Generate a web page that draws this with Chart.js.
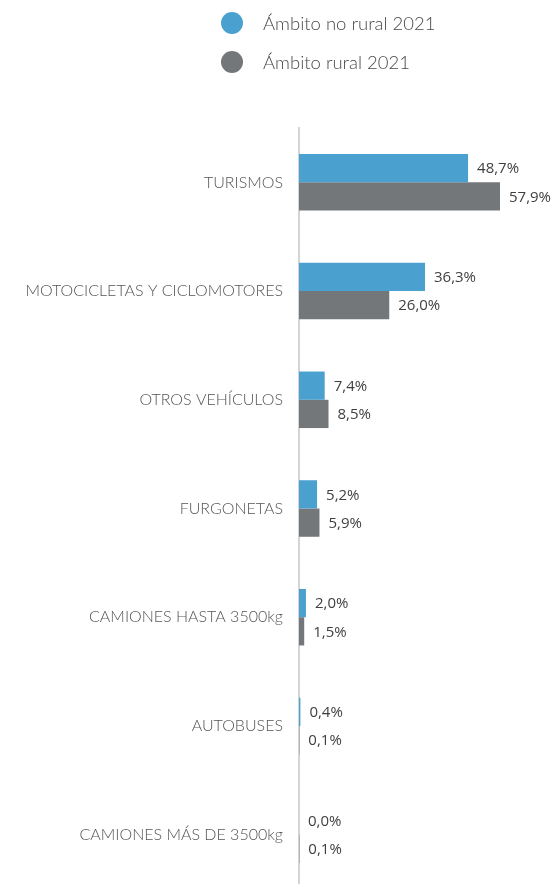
<!DOCTYPE html>
<html lang="es">
<head>
<meta charset="utf-8">
<title>Vehículos por ámbito 2021</title>
<script src="https://cdn.jsdelivr.net/npm/chart.js@4.4.0/dist/chart.umd.min.js"></script>
<style>
  html, body { margin: 0; padding: 0; background: #fff; }
  #wrap { position: relative; width: 554px; height: 884px; overflow: hidden; }
  #grafico { display: block; }
  #leyenda { position: absolute; left: 221px; top: 11px; font-family: 'Lato', sans-serif; font-weight: 300; font-size: 18.5px; color: #4a4a4a; }
  #leyenda .item { display: flex; align-items: center; height: 24px; margin-bottom: 15px; }
  #leyenda .dot { width: 22px; height: 22px; border-radius: 50%; margin-right: 20px; }
</style>
</head>
<body>
<div id="wrap">
  <!-- el lienzo sobresale unos px por abajo: el eje del original sigue bajo el borde -->
  <canvas id="grafico" width="554" height="889"></canvas>
  <div id="leyenda"></div>
</div>
<script>
// Datos (% sobre total)
const categorias = ['TURISMOS', 'MOTOCICLETAS Y CICLOMOTORES', 'OTROS VEHÍCULOS', 'FURGONETAS',
  'CAMIONES HASTA 3500kg', 'AUTOBUSES', 'CAMIONES MÁS DE 3500kg'];
const noRural = [48.7, 36.3, 7.4, 5.2, 2.0, 0.4, 0.0];
const rural = [57.9, 26.0, 8.5, 5.9, 1.5, 0.1, 0.1];
const series = ['Ámbito no rural 2021', 'Ámbito rural 2021'];

const colores = ['#4aa1cf', '#74777a'];

// leyenda en HTML (dos filas, alineada a la izquierda)
const leyenda = document.getElementById('leyenda');
series.forEach((s, i) => {
  const item = document.createElement('div');
  item.className = 'item';
  item.innerHTML = `<span class="dot" style="background:${colores[i]}"></span><span>${s}</span>`;
  leyenda.appendChild(item);
});

// etiquetas de valor al final de cada barra
const etiquetasValor = {
  id: 'etiquetasValor',
  afterDatasetsDraw(chart) {
    const ctx = chart.ctx;
    ctx.save();
    ctx.font = '15px "Open Sans", sans-serif';
    ctx.fillStyle = '#404040';
    ctx.textBaseline = 'middle';
    chart.data.datasets.forEach((ds, i) => {
      chart.getDatasetMeta(i).data.forEach((bar, j) => {
        const txt = ds.data[j].toFixed(1).replace('.', ',') + '%';
        ctx.fillText(txt, bar.x + 9, bar.y + 1);
      });
    });
    ctx.restore();
  }
};

new Chart(document.getElementById('grafico'), {
  type: 'bar',
  data: {
    labels: categorias,
    datasets: [
      { label: series[0], data: noRural, backgroundColor: colores[0] },
      { label: series[1], data: rural, backgroundColor: colores[1] }
    ]
  },
  options: {
    indexAxis: 'y',
    responsive: false,
    animation: false,
    layout: { padding: { top: 128, right: 12, left: 0, bottom: 0 } },
    datasets: { bar: { barPercentage: 1, categoryPercentage: 0.52 } },
    plugins: { legend: { display: false }, tooltip: { enabled: false } },
    scales: {
      x: { display: false, min: 0, max: 70 },
      y: {
        grid: { display: false },
        border: { display: true, color: '#d4d4d4', width: 2 },
        ticks: { color: '#555', padding: 8, font: { family: 'Lato', size: 16, weight: 300 } },
        afterFit(scale) {
          scale.width = 299;
          scale.paddingTop = 0;
          scale.paddingBottom = 0;
        }
      }
    }
  },
  plugins: [etiquetasValor]
});
</script>
</body>
</html>
